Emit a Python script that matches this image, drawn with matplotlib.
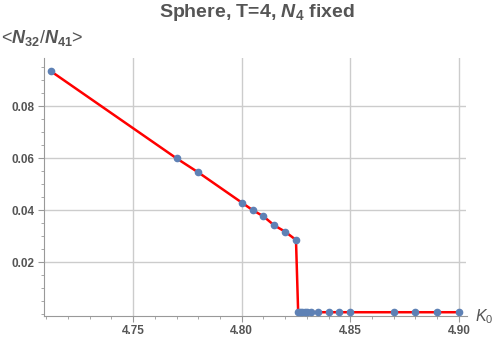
import matplotlib.pyplot as plt
import numpy as np
from matplotlib.ticker import MultipleLocator, FormatStrFormatter

plt.rcParams['font.family'] = ['Liberation Sans', 'DejaVu Sans']
plt.rcParams['mathtext.fontset'] = 'custom'
plt.rcParams['mathtext.it'] = 'Liberation Sans:italic:bold'
plt.rcParams['mathtext.rm'] = 'Liberation Sans:bold'
plt.rcParams['mathtext.sf'] = 'Liberation Sans:italic'
plt.rcParams['mathtext.tt'] = 'Liberation Sans'

# Data
k0 = [4.712, 4.770, 4.780, 4.800, 4.805, 4.810, 4.815, 4.820, 4.825,
      4.826, 4.827, 4.828, 4.829, 4.830, 4.832, 4.835, 4.840, 4.845,
      4.850, 4.870, 4.880, 4.890, 4.900]
ratio = [0.0936, 0.0600, 0.0546, 0.0430, 0.0401, 0.0377, 0.0342, 0.0318, 0.0286,
         0.0009, 0.0009, 0.0009, 0.0009, 0.0009, 0.0009, 0.0008, 0.0008, 0.0008,
         0.0008, 0.0008, 0.0008, 0.0008, 0.0008]

grey = '#555555'

fig = plt.figure(figsize=(5, 3.39), dpi=100)
ax = fig.add_axes([0.088, 0.069, 0.845, 0.760])

ax.plot(k0, ratio, color='red', lw=1.8, zorder=2)
ax.plot(k0, ratio, 'o', color='#5E81B5', ms=4.5, zorder=3)

ax.set_xlim(4.709, 4.9035)
ax.set_ylim(-0.0005, 0.0986)

ax.xaxis.set_major_locator(MultipleLocator(0.05))
ax.xaxis.set_minor_locator(MultipleLocator(0.01))
ax.yaxis.set_major_locator(MultipleLocator(0.02))
ax.yaxis.set_minor_locator(MultipleLocator(0.005))
ax.xaxis.set_major_formatter(FormatStrFormatter('%.2f'))
ax.yaxis.set_major_formatter(FormatStrFormatter('%.2f'))
ax.set_yticks([0.02, 0.04, 0.06, 0.08])

ax.grid(visible=True, which='major', color='#cccccc', lw=1.0)
for s in ['top', 'right']:
    ax.spines[s].set_visible(False)
for s in ['left', 'bottom']:
    ax.spines[s].set_color('#999999')
ax.tick_params(which='major', length=4, color='#999999', labelcolor=grey,
               labelsize=8.5, pad=3)
ax.tick_params(which='minor', length=2, color='#999999')
for lab in ax.get_xticklabels() + ax.get_yticklabels():
    lab.set_fontweight('bold')

fig.text(0.514, 0.963, r'Sphere, T=4, $N_4$ fixed', ha='center', va='center',
         color=grey, fontsize=14, fontweight='bold')
fig.text(0.002, 0.888, r'<$N_{32}$/$N_{41}$>', ha='left', va='center',
         color=grey, fontsize=13)
fig.text(0.950, 0.066, r'$\mathsf{K}_{\mathtt{0}}$', ha='left', va='center',
         color=grey, fontsize=11.5)

fig.savefig('out.png', dpi=100)
